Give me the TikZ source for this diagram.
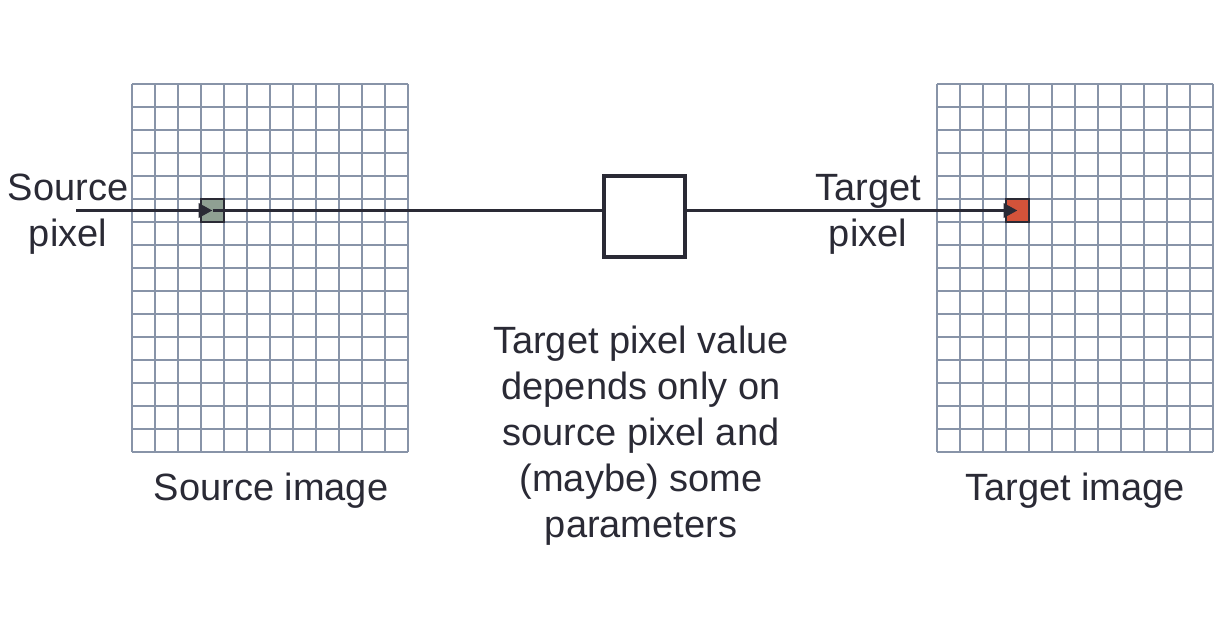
\documentclass[tikz,border=0pt]{standalone}
\usepackage{fontspec}
\setmainfont{Liberation Sans}
\usetikzlibrary{arrows.meta}
\definecolor{ink}{HTML}{2A2A35}
\definecolor{gridgrey}{HTML}{8894A8}
\definecolor{srcfill}{HTML}{8FA093}
\definecolor{tgtfill}{HTML}{D3533A}
\begin{document}
\begin{tikzpicture}[x=1pt,y=-1pt,
    arrow/.style = {ink,line width=3.5pt,-{Triangle[length=14pt,width=14pt]}},
    wire/.style = {ink,line width=3.5pt},
    gridline/.style = {gridgrey,line width=1.6pt},
    pixel/.style = {draw=ink,line width=1.2pt,minimum size=23pt,inner sep=0pt},
    label/.style = {ink,font=\fontsize{38}{46}\selectfont,align=center,inner sep=0pt}]
                \useasboundingbox (0,0) rectangle (1230,620);
                % the two images
                \foreach \gx in {132,937} {
                    \foreach \i in {0,...,12}
                        \draw[gridline] (\gx+23*\i,84) -- (\gx+23*\i,452);
                    \foreach \j in {0,...,16}
                        \draw[gridline] (\gx,84+23*\j) -- (\gx+276,84+23*\j);
                }
                \node[pixel,fill=srcfill] (srcpx) at (212.5,210.5) {};
                \node[pixel,fill=tgtfill] (tgtpx) at (1017.5,210.5) {};
                \node[draw=ink,line width=3.5pt,minimum size=81pt,inner sep=0pt,fill=white]
                    (fn) at (644.5,216.5) {};
                \coordinate (srcin) at (76,210.5);

                \draw[arrow] (srcin) -- (srcpx.center);
                \draw[wire] (srcpx.center) -- (fn.west |- srcpx.center);
                \draw[arrow] (fn.east |- tgtpx.center) -- (tgtpx.center);

                \node[label] (srclbl) at (68,214) {Source\\pixel};
                \node[label] (tgtlbl) at (868,214) {Target\\pixel};
                \node[label] (srcname) at (271,491) {Source image};
                \node[label] (tgtname) at (1075,491) {Target image};
                \node[label] (note) at (641,436) {Target pixel value\\depends only on\\source pixel and\\(maybe) some\\parameters};
            \end{tikzpicture}
\end{document}
